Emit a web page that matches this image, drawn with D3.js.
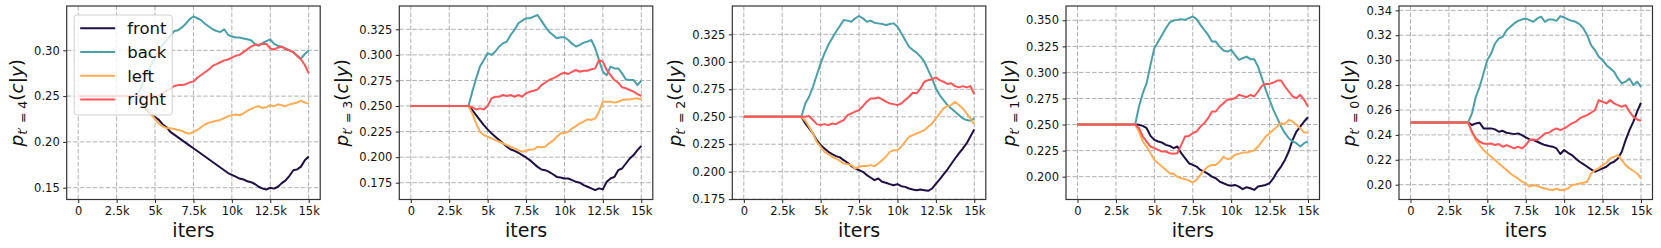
<!DOCTYPE html>
<html>
<head>
<meta charset="utf-8">
<script src="https://cdn.jsdelivr.net/npm/d3@7"></script>
<style>
  body { margin: 0; background: #fff; }
  text { font-family: "DejaVu Sans", sans-serif; }
</style>
</head>
<body>
<script>
// ---------------- data ----------------
const iters = [0, 3750, 4000, 4250, 4500, 4750, 5000, 5250, 5500, 5750, 6000, 6250, 6500, 6750,
  7000, 7250, 7500, 7750, 8000, 8250, 8500, 8750, 9000, 9250, 9500, 9750, 10000, 10250, 10500,
  10750, 11000, 11250, 11500, 11750, 12000, 12250, 12500, 12750, 13000, 13250, 13500, 13750,
  14000, 14250, 14500, 14750, 15000];

const seriesNames = ["front", "back", "left", "right"];
const seriesColors = ["#1e0f45", "#4aa0a8", "#ffad55", "#ff5558"];

const xTickValues = [0, 2500, 5000, 7500, 10000, 12500, 15000];
const xTickLabels = ["0", "2.5k", "5k", "7.5k", "10k", "12.5k", "15k"];

// t' = 4
const t4_front = [.25, .25, .247, .240, .234, .230, .227, .224, .219, .216, .211, .208, .205, .202, .199, .196, .193, .190, .187, .184, .181, .178, .175, .172, .169, .166, .164, .162, .160, .159, .157, .156, .154, .151, .149, .148, .150, .149, .151, .155, .158, .163, .169, .170, .173, .180, .184];
const t4_back = [.25, .25, .256, .266, .276, .284, .292, .300, .306, .311, .316, .321, .322, .325, .329, .334, .337, .335, .333, .329, .326, .323, .321, .320, .323, .317, .315, .314, .314, .313, .312, .311, .307, .305, .308, .310, .312, .307, .305, .304, .302, .300, .298, .294, .291, .296, .300];
const t4_left = [.25, .25, .247, .242, .236, .230, .225, .220, .217, .215, .215, .214, .213, .212, .210, .209, .211, .213, .216, .219, .221, .222, .223, .224, .226, .228, .229, .230, .229, .231, .234, .236, .238, .239, .237, .238, .240, .239, .241, .240, .239, .241, .242, .243, .245, .243, .242];
const t4_right = [.25, .25, .250, .250, .250, .250, .250, .251, .253, .256, .258, .261, .262, .262, .263, .265, .266, .270, .273, .276, .279, .283, .285, .287, .289, .290, .292, .294, .295, .298, .301, .304, .306, .306, .307, .307, .302, .301, .303, .304, .301, .300, .298, .294, .290, .284, .275];

// t' = 3
const t3_front = [.25, .25, .2461, .2412, .2363, .2314, .2272, .2233, .2200, .2167, .2135, .2102, .2075, .2062, .2043, .2020, .1997, .1971, .1938, .1905, .1879, .1873, .1856, .1833, .1807, .1801, .1791, .1791, .1775, .1759, .1750, .1727, .1711, .1695, .1678, .1695, .1685, .1759, .1791, .1807, .1873, .1889, .1938, .1987, .2020, .2069, .2109];
const t3_back = [.25, .25, .2640, .2770, .2886, .2950, .3017, .3000, .3033, .3082, .3114, .3130, .3195, .3244, .3309, .3335, .3358, .3358, .3374, .3390, .3335, .3276, .3227, .3195, .3162, .3172, .3172, .3146, .3107, .3082, .3098, .3120, .3130, .3146, .3065, .2950, .2835, .2802, .2885, .2868, .2868, .2819, .2760, .2754, .2754, .2705, .2747];
const t3_left = [.25, .25, .2428, .2330, .2249, .2216, .2200, .2184, .2167, .2151, .2135, .2118, .2102, .2085, .2069, .2053, .2062, .2075, .2075, .2102, .2096, .2102, .2135, .2161, .2200, .2233, .2233, .2249, .2282, .2304, .2330, .2347, .2370, .2363, .2379, .2445, .2542, .2542, .2542, .2533, .2542, .2559, .2565, .2565, .2572, .2575, .2565];
const t3_right = [.25, .25, .2487, .2467, .2477, .2467, .2500, .2575, .2591, .2591, .2608, .2598, .2608, .2591, .2608, .2591, .2624, .2640, .2650, .2663, .2705, .2728, .2754, .2770, .2787, .2813, .2826, .2813, .2835, .2852, .2835, .2845, .2845, .2859, .2868, .2950, .2934, .2852, .2802, .2754, .2728, .2683, .2673, .2657, .2640, .2617, .2598];

// t' = 2
const t2_front = [.25, .25, .2439, .2394, .2348, .2287, .2242, .2212, .2181, .2160, .2142, .2130, .2105, .2081, .2051, .2029, .2014, .1999, .1969, .1947, .1923, .1938, .1908, .1899, .1887, .1877, .1887, .1868, .1862, .1847, .1838, .1832, .1838, .1832, .1826, .1847, .1890, .1930, .1976, .2020, .2070, .2120, .2166, .2210, .2257, .2320, .2385];
const t2_back = [.25, .25, .2621, .2682, .2773, .2880, .2986, .3077, .3153, .3214, .3274, .3326, .3381, .3375, .3365, .3396, .3417, .3396, .3365, .3375, .3356, .3350, .3344, .3335, .3344, .3350, .3320, .3259, .3198, .3138, .3107, .3083, .3047, .3001, .2925, .2849, .2758, .2697, .2652, .2606, .2576, .2546, .2515, .2485, .2470, .2464, .2485];
const t2_left = [.25, .25, .2464, .2409, .2348, .2272, .2227, .2181, .2160, .2136, .2120, .2099, .2075, .2069, .2060, .2029, .2045, .2051, .2051, .2060, .2051, .2075, .2105, .2136, .2181, .2196, .2196, .2227, .2272, .2318, .2333, .2348, .2363, .2379, .2409, .2439, .2485, .2530, .2576, .2597, .2606, .2637, .2606, .2576, .2530, .2485, .2433];
const t2_right = [.25, .25, .2500, .2506, .2470, .2433, .2424, .2433, .2424, .2439, .2433, .2454, .2470, .2515, .2530, .2546, .2561, .2597, .2637, .2667, .2667, .2676, .2658, .2637, .2621, .2615, .2606, .2621, .2652, .2682, .2719, .2713, .2758, .2819, .2834, .2840, .2858, .2834, .2819, .2798, .2804, .2779, .2767, .2779, .2767, .2779, .2706];

// t' = 1
const t1_front = [.25, .25, .2497, .2487, .2465, .2391, .2353, .2337, .2327, .2305, .2295, .2273, .2289, .2225, .2177, .2129, .2113, .2097, .2065, .2049, .2027, .2001, .1985, .1953, .1937, .1921, .1912, .1921, .1905, .1880, .1899, .1889, .1873, .1905, .1912, .1921, .1937, .1985, .2049, .2097, .2161, .2241, .2353, .2433, .2481, .2529, .2570];
const t1_back = [.25, .25, .2673, .2801, .2897, .3072, .3232, .3296, .3360, .3424, .3479, .3498, .3504, .3511, .3504, .3520, .3536, .3511, .3456, .3408, .3360, .3296, .3296, .3248, .3210, .3200, .3216, .3168, .3120, .3136, .3152, .3127, .3127, .3056, .2945, .2833, .2737, .2641, .2561, .2481, .2417, .2369, .2337, .2321, .2289, .2321, .2337];
const t1_left = [.25, .25, .2433, .2337, .2289, .2225, .2161, .2129, .2097, .2065, .2033, .2027, .2001, .1985, .1976, .1963, .1944, .1969, .2017, .2065, .2097, .2113, .2113, .2145, .2193, .2167, .2177, .2209, .2219, .2231, .2231, .2241, .2251, .2289, .2337, .2385, .2417, .2449, .2481, .2513, .2506, .2545, .2529, .2497, .2465, .2423, .2423];
const t1_right = [.25, .25, .2465, .2385, .2337, .2289, .2273, .2257, .2241, .2241, .2225, .2219, .2225, .2305, .2385, .2391, .2417, .2433, .2481, .2513, .2561, .2625, .2625, .2673, .2705, .2737, .2743, .2753, .2785, .2775, .2762, .2785, .2769, .2817, .2871, .2890, .2890, .2903, .2922, .2922, .2865, .2817, .2769, .2753, .2785, .2737, .2673];

// t' = 0
const t0_front = [.25, .25, .2479, .2492, .2497, .2452, .2452, .2452, .2444, .2425, .2433, .2417, .2412, .2406, .2412, .2398, .2380, .2363, .2358, .2345, .2331, .2318, .2310, .2305, .2291, .2246, .2278, .2256, .2238, .2211, .2184, .2165, .2144, .2123, .2104, .2117, .2131, .2144, .2171, .2184, .2211, .2264, .2358, .2438, .2505, .2586, .2658];
const t0_back = [.25, .25, .2572, .2706, .2786, .2893, .3001, .3054, .3134, .3175, .3188, .3241, .3268, .3295, .3316, .3327, .3335, .3322, .3308, .3335, .3349, .3308, .3327, .3327, .3316, .3354, .3343, .3327, .3316, .3308, .3290, .3255, .3201, .3121, .3081, .3027, .3001, .2960, .2934, .2907, .2853, .2813, .2827, .2853, .2800, .2827, .2786];
const t0_left = [.25, .25, .2425, .2358, .2318, .2278, .2251, .2224, .2198, .2171, .2144, .2117, .2090, .2069, .2050, .2024, .2010, .1984, .1997, .1989, .1978, .1970, .1962, .1957, .1967, .1957, .1957, .1970, .1997, .2002, .2010, .2016, .2024, .2090, .2117, .2131, .2157, .2176, .2211, .2224, .2238, .2198, .2157, .2131, .2112, .2090, .2050];
const t0_right = [.25, .25, .2425, .2372, .2345, .2331, .2326, .2331, .2318, .2326, .2305, .2318, .2305, .2291, .2305, .2291, .2318, .2358, .2363, .2358, .2385, .2412, .2417, .2438, .2452, .2438, .2452, .2471, .2492, .2505, .2532, .2546, .2559, .2578, .2599, .2679, .2666, .2653, .2679, .2653, .2639, .2626, .2639, .2586, .2546, .2524, .2513];

// y-axis ticks per panel
const t4_yTicks = [0.15, 0.20, 0.25, 0.30];
const t3_yTicks = [0.175, 0.200, 0.225, 0.250, 0.275, 0.300, 0.325];
const t2_yTicks = [0.175, 0.200, 0.225, 0.250, 0.275, 0.300, 0.325];
const t1_yTicks = [0.200, 0.225, 0.250, 0.275, 0.300, 0.325, 0.350];
const t0_yTicks = [0.20, 0.22, 0.24, 0.26, 0.28, 0.30, 0.32, 0.34];

// ---------------- layout ----------------
const panels = [
  { t: "4", series: [t4_front, t4_back, t4_left, t4_right], yTicks: t4_yTicks, fmt: ".2f", yDomain: [0.1371, 0.3484], left: 66.7, legend: true },
  { t: "3", series: [t3_front, t3_back, t3_left, t3_right], yTicks: t3_yTicks, fmt: ".3f", yDomain: [0.1586, 0.3478], left: 399.3 },
  { t: "2", series: [t2_front, t2_back, t2_left, t2_right], yTicks: t2_yTicks, fmt: ".3f", yDomain: [0.1747, 0.3508], left: 732.3 },
  { t: "1", series: [t1_front, t1_back, t1_left, t1_right], yTicks: t1_yTicks, fmt: ".3f", yDomain: [0.1781, 0.3637], left: 1066 },
  { t: "0", series: [t0_front, t0_back, t0_left, t0_right], yTicks: t0_yTicks, fmt: ".2f", yDomain: [0.1881, 0.3435], left: 1399 }
];
const W = 253.5, TOP = 6, BOTTOM = 199.5;

const svg = d3.select("body").append("svg")
  .attr("width", 1661).attr("height", 248);

panels.forEach(p => {
  const g = svg.append("g").attr("transform", `translate(${p.left},0)`);
  const x = d3.scaleLinear().domain([-750, 15750]).range([0, W]);
  const y = d3.scaleLinear().domain(p.yDomain).range([BOTTOM, TOP]);

  // grid
  const grid = g.append("g").attr("stroke", "#b0b0b0").attr("stroke-width", 1)
    .attr("stroke-dasharray", "4.5,2");
  grid.selectAll(".gx").data(xTickValues).join("line")
    .attr("x1", d => x(d)).attr("x2", d => x(d)).attr("y1", TOP).attr("y2", BOTTOM);
  grid.selectAll(".gy").data(p.yTicks).join("line")
    .attr("x1", 0).attr("x2", W).attr("y1", d => y(d)).attr("y2", d => y(d));

  // lines
  const line = d3.line().x((d, i) => x(iters[i])).y(d => y(d));
  p.series.forEach((s, k) => {
    g.append("path").datum(s)
      .attr("fill", "none")
      .attr("stroke", seriesColors[k])
      .attr("stroke-width", 2)
      .attr("stroke-linejoin", "round")
      .attr("d", line);
  });

  // axes
  const xAxis = g.append("g").attr("transform", `translate(0,${BOTTOM})`)
    .call(d3.axisBottom(x).tickValues(xTickValues)
      .tickFormat((d, i) => xTickLabels[i]).tickSize(3.5).tickPadding(3.5));
  const yAxis = g.append("g")
    .call(d3.axisLeft(y).tickValues(p.yTicks)
      .tickFormat(d3.format(p.fmt)).tickSize(3.5).tickPadding(3.5));
  [xAxis, yAxis].forEach(a => {
    a.select(".domain").remove();
    a.selectAll("line").attr("stroke", "#222").attr("stroke-width", 1);
    a.selectAll("text").attr("font-size", 11.5).attr("fill", "#111")
      .attr("font-family", "DejaVu Sans");
  });

  // frame
  g.append("rect").attr("x", 0).attr("y", TOP).attr("width", W).attr("height", BOTTOM - TOP)
    .attr("fill", "none").attr("stroke", "#333").attr("stroke-width", 1.2);

  // x label
  g.append("text").attr("x", W / 2).attr("y", 237)
    .attr("text-anchor", "middle").attr("font-size", 19).attr("fill", "#111").text("iters");

  // y label  p_{t'=k}(c|y), placed left of the tick labels
  const tickLeft = yAxis.node().getBBox().x;
  const yl = g.append("text")
    .attr("transform", `translate(${tickLeft - 11},${(TOP + BOTTOM) / 2}) rotate(-90)`)
    .attr("text-anchor", "middle").attr("font-size", 18.5).attr("fill", "#111");
  yl.append("tspan").attr("font-style", "italic").text("p");
  const sub = yl.append("tspan").attr("font-size", 12.5).attr("dy", 3.5);
  sub.append("tspan").attr("font-style", "italic").text("t");
  sub.append("tspan").text("′ = " + p.t);
  yl.append("tspan").attr("dy", -3.5).text("(");
  yl.append("tspan").attr("font-style", "italic").text("c");
  yl.append("tspan").text("|");
  yl.append("tspan").attr("font-style", "italic").text("y");
  yl.append("tspan").text(")");

  // legend
  if (p.legend) {
    const lg = g.append("g").attr("transform", "translate(7.5,15)");
    lg.append("rect").attr("width", 98).attr("height", 100).attr("rx", 3)
      .attr("fill", "#fff").attr("fill-opacity", 0.8)
      .attr("stroke", "#d0d0d0").attr("stroke-width", 1);
    seriesNames.forEach((n, i) => {
      const yy = 13.3 + i * 23.7;
      lg.append("line").attr("x1", 6).attr("x2", 41).attr("y1", yy).attr("y2", yy)
        .attr("stroke", seriesColors[i]).attr("stroke-width", 2);
      lg.append("text").attr("x", 53).attr("y", yy + 5.8)
        .attr("font-size", 16.5).attr("fill", "#111").text(n);
    });
  }
});
</script>
</body>
</html>
